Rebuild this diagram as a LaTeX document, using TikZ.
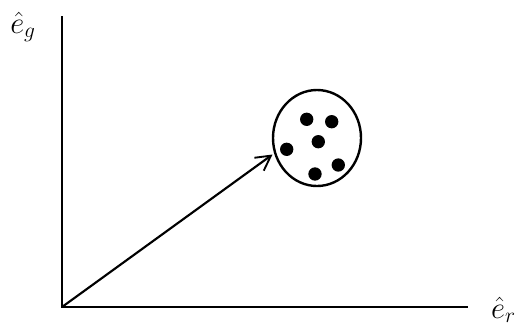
\RequirePackage{fix-cm}
\documentclass[tikz,border=0pt]{standalone}
\usepackage{tikz}
\usetikzlibrary{arrows.meta,shapes.geometric}
\begin{document}
\begin{tikzpicture}[x=0.75pt,y=-0.75pt,
  axis/.style={line width=1.6pt},
  vec/.style={line width=1.6pt,-{Straight Barb[length=11pt,width=12pt,line width=1.4pt]}},
  blob/.style={fill=black,circle,inner sep=0pt,minimum size=10pt},
  lbl/.style={inner sep=0pt,font=\fontsize{23}{27}\selectfont}]
\useasboundingbox (0,0) rectangle (520,326);
\coordinate (O) at (62,307);
\coordinate (ytop) at (62,16);
\coordinate (xend) at (468,307);
\draw[axis] (ytop) -- (O) -- (xend);
\node[draw,ellipse,line width=1.8pt,minimum width=66pt,minimum height=72pt,inner sep=0pt] (cl) at (317,138) {};
\draw[vec] (O) -- (272.5,154.5) coordinate (tip);
\node[blob] (d1) at (306.7,119.3) {};
\node[blob] (d2) at (331.7,121.7) {};
\node[blob] (d3) at (318.3,141.7) {};
\node[blob] (d4) at (286.7,149.3) {};
\node[blob] (d5) at (338.3,165) {};
\node[blob] (d6) at (315,174) {};
\node[lbl,anchor=west] (eg) at (10,27) {$\hat{e}_g$};
\node[lbl,anchor=south east] (er) at (516,323) {$\hat{e}_r$};
\end{tikzpicture}
\end{document}
